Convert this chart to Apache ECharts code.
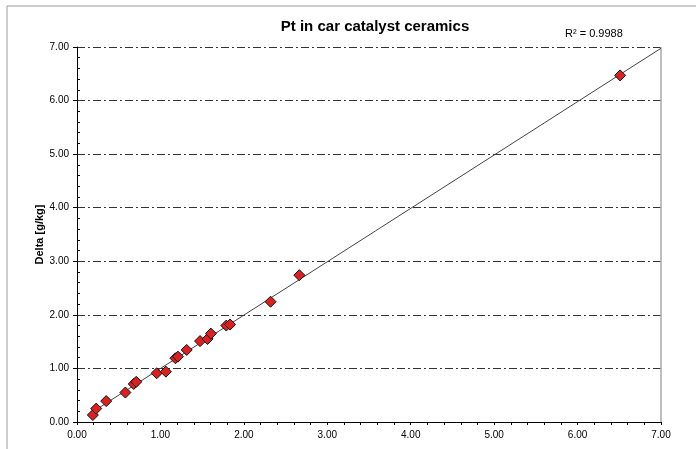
<!DOCTYPE html>
<html><head><meta charset="utf-8">
<script src="https://cdn.jsdelivr.net/npm/echarts@6/dist/echarts.min.js"></script>
<style>html,body{margin:0;padding:0;background:#fff}#c{width:696px;height:449px}</style>
</head><body><div id="c"></div>
<script>
const titleText = 'Pt in car catalyst ceramics';
const yName = 'Delta [g/kg]';
const r2Text = 'R² = 0.9988';
const xValues = [0.19, 0.23, 0.35, 0.58, 0.68, 0.71, 0.955, 1.065, 1.18, 1.21, 1.315, 1.475, 1.565, 1.605, 1.79, 1.835, 2.32, 2.665, 6.51];
const yValues = [0.13, 0.25, 0.39, 0.55, 0.71, 0.75, 0.91, 0.94, 1.19, 1.22, 1.345, 1.51, 1.55, 1.65, 1.80, 1.82, 2.245, 2.74, 6.47];
const axisMax = 7;

// linear least-squares trendline from data
const n = xValues.length;
const mx = xValues.reduce((a,b)=>a+b,0)/n, my = yValues.reduce((a,b)=>a+b,0)/n;
let sxy=0,sxx=0;
for(let i=0;i<n;i++){sxy+=(xValues[i]-mx)*(yValues[i]-my);sxx+=(xValues[i]-mx)**2;}
const slope=sxy/sxx, icpt=my-slope*mx;
const xmin=Math.min(...xValues)*0.8;
const trend=[[xmin, slope*xmin+icpt],[axisMax, slope*axisMax+icpt]];

const chart = echarts.init(document.getElementById('c'), null, {renderer:'canvas'});
const font = 'Liberation Sans, Arial, sans-serif';
chart.setOption({
  animation:false,
  textStyle:{fontFamily:font},
  title:{text:titleText,left:370,top:14,textAlign:'center',textStyle:{fontFamily:font,fontSize:15,fontWeight:'bold',color:'#000'}},
  graphic:[
    {type:'rect',shape:{x:7,y:6,width:800,height:600},style:{fill:'none',stroke:'#9a9a9a',lineWidth:1},silent:true},
    {type:'text',left:565,top:28,style:{text:r2Text,font:'11px Liberation Sans, Arial, sans-serif',fill:'#000'}}
  ],
  grid:{left:77,top:47,width:584,height:375,show:false},
  xAxis:{type:'value',min:0,max:axisMax,interval:1,
    axisLine:{onZero:false,lineStyle:{color:'#000',width:1}},
    axisTick:{show:true,length:3,lineStyle:{color:'#000'}},
    minorTick:{show:true,splitNumber:5,length:3,lineStyle:{color:'#000'}},
    axisLabel:{formatter:v=>v.toFixed(2),fontSize:10,color:'#000',fontFamily:font,margin:8},
    splitLine:{show:false}},
  yAxis:{type:'value',min:0,max:axisMax,interval:1,name:yName,nameLocation:'middle',nameGap:32,nameMoveOverlap:false,
    nameTextStyle:{fontFamily:font,fontSize:11,fontWeight:'bold',color:'#000'},
    axisLine:{onZero:false,lineStyle:{color:'#000',width:1}},
    axisTick:{show:true,length:4,lineStyle:{color:'#000'}},
    minorTick:{show:true,splitNumber:5,length:-3,lineStyle:{color:'#000'}},
    axisLabel:{formatter:v=>v.toFixed(2),fontSize:10,color:'#000',fontFamily:font,margin:8},
    splitLine:{show:true,lineStyle:{color:'#333',width:1,type:[8,3,2,3]}}},
  series:[
    {type:'line',data:trend,showSymbol:false,symbol:'none',lineStyle:{color:'#444',width:1},silent:true,z:2},
    {type:'scatter',data:xValues.map((x,i)=>[x,yValues[i]]),symbol:'diamond',symbolSize:11,
     itemStyle:{color:'#dd1f1f',opacity:1,borderColor:'#111',borderWidth:1},z:3},
    {type:'line',data:[[axisMax,0],[axisMax,axisMax]],symbol:'none',lineStyle:{color:'#aaaaaa',width:1.5},silent:true,z:1}
  ]
});
</script></body></html>
